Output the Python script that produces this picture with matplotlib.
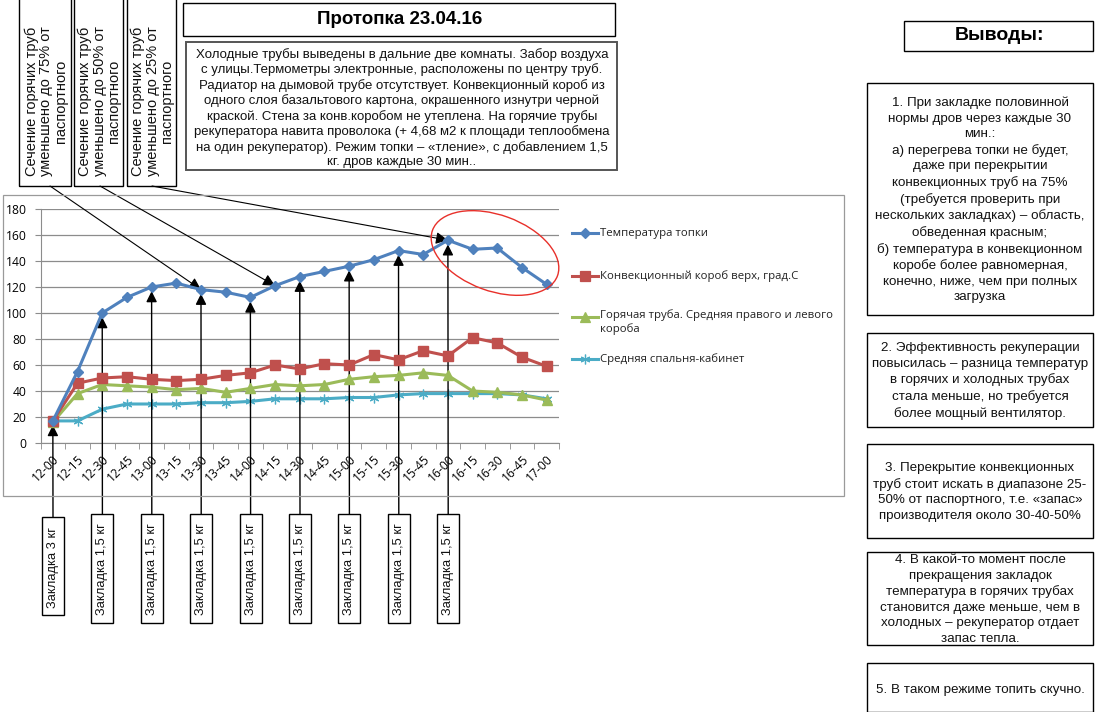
# -*- coding: utf-8 -*-
import matplotlib
matplotlib.use("Agg")
import matplotlib.pyplot as plt
from matplotlib.patches import Rectangle, Ellipse
from matplotlib.lines import Line2D

# Данные протопки 23.04.16
times = ["12-00", "12-15", "12-30", "12-45", "13-00", "13-15", "13-30", "13-45", "14-00", "14-15", "14-30",
         "14-45", "15-00", "15-15", "15-30", "15-45", "16-00", "16-15", "16-30", "16-45", "17-00"]
topka = [17, 55, 100, 112, 120, 123, 118, 116, 112, 121, 128, 132, 136, 141, 148, 145, 156, 149, 150, 135, 122]
korob = [17, 46, 50, 51, 49, 48, 49, 52, 54, 60, 57, 61, 60, 68, 64, 71, 67, 81, 77, 66, 59]
truba = [16, 38, 45, 44, 43, 41, 42, 39, 42, 45, 44, 45, 49, 51, 52, 54, 52, 40, 39, 37, 33]
spalnya = [17, 17, 26, 30, 30, 30, 31, 31, 32, 34, 34, 34, 35, 35, 37, 38, 38, 38, 38, 37, 34]

series_names = ["Температура топки", "Конвекционный короб верх, град.С",
                "Горячая труба. Средняя правого и левого\nкороба", "Средняя спальня-кабинет"]

# Закладки дров
zakladki_idx = [0, 2, 4, 6, 8, 10, 12, 14, 16]
zakladki_txt = ["Закладка 3 кг"] + ["Закладка 1,5 кг"] * 8

# Сечение труб
sechenie_txt = ["Сечение горячих труб\nуменьшено до 75% от\nпаспортного",
                "Сечение горячих труб\nуменьшено до 50% от\nпаспортного",
                "Сечение горячих труб\nуменьшено до 25% от\nпаспортного"]
sechenie_idx = [6, 9, 16]

title_txt = "Протопка 23.04.16"
opisanie = ("Холодные трубы выведены в дальние две комнаты. Забор воздуха\n"
            "с улицы.Термометры электронные, расположены по центру труб.\n"
            "Радиатор на дымовой трубе отсутствует. Конвекционный короб из\n"
            "одного слоя базальтового картона, окрашенного изнутри черной\n"
            "краской. Стена за конв.коробом не утеплена. На горячие трубы\n"
            "рекуператора навита проволока (+ 4,68 м2 к площади теплообмена\n"
            "на один рекуператор). Режим топки – «тление», с добавлением 1,5\n"
            "кг. дров каждые 30 мин..")

vyvody = [
    "1. При закладке половинной\nнормы дров через каждые 30\nмин.:\nа) перегрева топки не будет,\n"
    "даже при перекрытии\nконвекционных труб на 75%\n(требуется проверить при\n"
    "нескольких закладках) – область,\nобведенная красным;\nб) температура в конвекционном\n"
    "коробе более равномерная,\nконечно, ниже, чем при полных\nзагрузка",
    "2. Эффективность рекуперации\nповысилась – разница температур\nв горячих и холодных трубах\n"
    "стала меньше, но требуется\nболее мощный вентилятор.",
    "3. Перекрытие конвекционных\nтруб стоит искать в диапазоне 25-\n50% от паспортного, т.е. «запас»\n"
    "производителя около 30-40-50%",
    "4. В какой-то момент после\nпрекращения закладок\nтемпература в горячих трубах\n"
    "становится даже меньше, чем в\nхолодных – рекуператор отдает\nзапас тепла.",
    "5. В таком режиме топить скучно.",
]

W, H = 1095, 712
fig = plt.figure(figsize=(W / 100, H / 100), dpi=100)
fig.patch.set_facecolor("white")

BOX_FONT = ["Liberation Sans", "DejaVu Sans"]
CHART_FONT = ["Open Sans", "DejaVu Sans"]


def fx(x):
    return x / W


def fy(y):
    return 1 - y / H


def box(x0, y0, x1, y1, color="black", lw=1.0):
    fig.add_artist(Rectangle((fx(x0), fy(y1)), fx(x1 - x0), (y1 - y0) / H, transform=fig.transFigure,
                             facecolor="none", edgecolor=color, lw=lw, clip_on=False))


# Рамка диаграммы
box(3, 195, 844, 496, color="#9a9a9a", lw=0.9)

# Оси
ax = fig.add_axes([fx(40.5), fy(443), 518.5 / W, 234 / H])
x = list(range(len(times)))
colors = ["#4F81BD", "#C0504D", "#9BBB59", "#4BACC6"]
ax.plot(x, spalnya, color=colors[3], lw=2.2, marker=(6, 2, 0), ms=7, mew=0.9, zorder=3)
ax.plot(x, truba, color=colors[2], lw=2.2, marker="^", ms=7, zorder=4)
ax.plot(x, korob, color=colors[1], lw=2.2, marker="s", ms=7, zorder=5)
ax.plot(x, topka, color=colors[0], lw=2.2, marker="D", ms=5.5, zorder=6)

ax.set_xlim(-0.5, len(times) - 0.5)
ax.set_ylim(0, 180)
ax.set_yticks(range(0, 181, 20))
ax.set_xticks(x)
ax.set_xticklabels(times, rotation=45, ha="right", va="top", rotation_mode="anchor", family=CHART_FONT,
                   fontsize=8.7)
for lab in ax.get_yticklabels():
    lab.set_family(CHART_FONT)
    lab.set_fontsize(8.7)
ax.set_xticks([i - 0.5 for i in range(len(times) + 1)], minor=True)
ax.tick_params(axis="x", which="major", length=0, pad=7)
ax.tick_params(axis="x", which="minor", length=4, color="#8c8c8c")
ax.tick_params(axis="y", length=4, color="#8c8c8c", pad=6)
ax.grid(axis="y", color="#8c8c8c", lw=0.9)
ax.set_axisbelow(True)
for s in ["top", "right"]:
    ax.spines[s].set_visible(False)
for s in ["left", "bottom"]:
    ax.spines[s].set_color("#8c8c8c")

# Легенда
leg_y = [233, 276, 317, 359]
leg_markers = ["D", "s", "^", (6, 2, 0)]
leg_ms = [5, 7, 6.5, 7]
for yy, c, m, ms, name in zip(leg_y, colors, leg_markers, leg_ms, series_names):
    fig.add_artist(Line2D([fx(572), fx(598)], [fy(yy), fy(yy)], transform=fig.transFigure, color=c, lw=2.2))
    fig.add_artist(Line2D([fx(585)], [fy(yy)], transform=fig.transFigure, color=c, marker=m, ms=ms, mew=0.9))
    if "\n" in name:
        fig.text(fx(600), fy(yy - 8), name, ha="left", va="top", fontsize=8.2, family=CHART_FONT,
                 color="#222222", linespacing=1.3)
    else:
        fig.text(fx(600), fy(yy), name, ha="left", va="center", fontsize=8.2, family=CHART_FONT,
                 color="#222222")

# Красный овал вокруг области без перегрева
fig.add_artist(Ellipse((4.95, (H - 253) / 100), 1.33, 0.76, angle=-20, transform=fig.dpi_scale_trans,
                       facecolor="none", edgecolor="#e8302a", lw=1.0))

# Заголовок и описание
box(183, 3, 615, 36)
fig.text(fx(400), fy(19), title_txt, ha="center", va="center", fontsize=13.5, weight="bold", family=BOX_FONT)
box(186, 42, 617, 170, color="#555555", lw=1.4)
fig.text(fx(402), fy(108), opisanie, ha="center", va="center", fontsize=9.5, family=BOX_FONT,
         linespacing=1.25, color="#111111")

# Сечение труб: вертикальные блоки и стрелки
sech_x = [(19, 71), (74, 123), (127, 176)]
sech_start = [50, 100, 152]
for (x0, x1), txt, xs, idx in zip(sech_x, sechenie_txt, sech_start, sechenie_idx):
    box(x0, -5, x1, 186)
    fig.text(fx((x0 + x1) / 2 + 1), fy(101), txt, ha="center", va="center", rotation=90, fontsize=10.5,
             family=BOX_FONT, linespacing=1.05, color="#111111")
    ax.annotate("", xy=(idx, topka[idx]), xycoords="data", xytext=(fx(xs), fy(186)),
                textcoords="figure fraction",
                arrowprops=dict(arrowstyle="-|>", color="black", lw=0.8, mutation_scale=18, shrinkA=0,
                                shrinkB=0), annotation_clip=False)

# Закладки дров: блоки и стрелки
for idx, txt in zip(zakladki_idx, zakladki_txt):
    xc = 53 + idx * 24.7
    if idx == 0:
        y0, y1 = 517, 615
    else:
        y0, y1 = 514, 623
    box(xc - 11, y0, xc + 11, y1)
    fig.text(fx(xc), fy((y0 + y1) / 2 + 1), txt, ha="center", va="center", rotation=90, fontsize=9.3,
             family=BOX_FONT, color="#111111")
    ax.annotate("", xy=(idx, topka[idx]), xycoords="data", xytext=(fx(xc), fy(y0)),
                textcoords="figure fraction",
                arrowprops=dict(arrowstyle="-|>", color="black", lw=1.0, mutation_scale=16, shrinkA=0,
                                shrinkB=3), annotation_clip=False)

# Выводы
box(904, 21, 1093, 51)
fig.text(fx(999), fy(36), "Выводы:", ha="center", va="center", fontsize=14, weight="bold", family=BOX_FONT)
vyv_boxes = [(83, 315), (333, 427), (444, 538), (552, 645), (663, 712)]
for (y0, y1), txt in zip(vyv_boxes, vyvody):
    box(867, y0, 1093, y1)
    yc = (y0 + y1) / 2 + 1 if y1 < 700 else 690
    fig.text(fx(980), fy(yc), txt, ha="center", va="center", fontsize=9.6, family=BOX_FONT,
             linespacing=1.38, color="#111111")

fig.savefig("out.png", dpi=100, facecolor="white")
